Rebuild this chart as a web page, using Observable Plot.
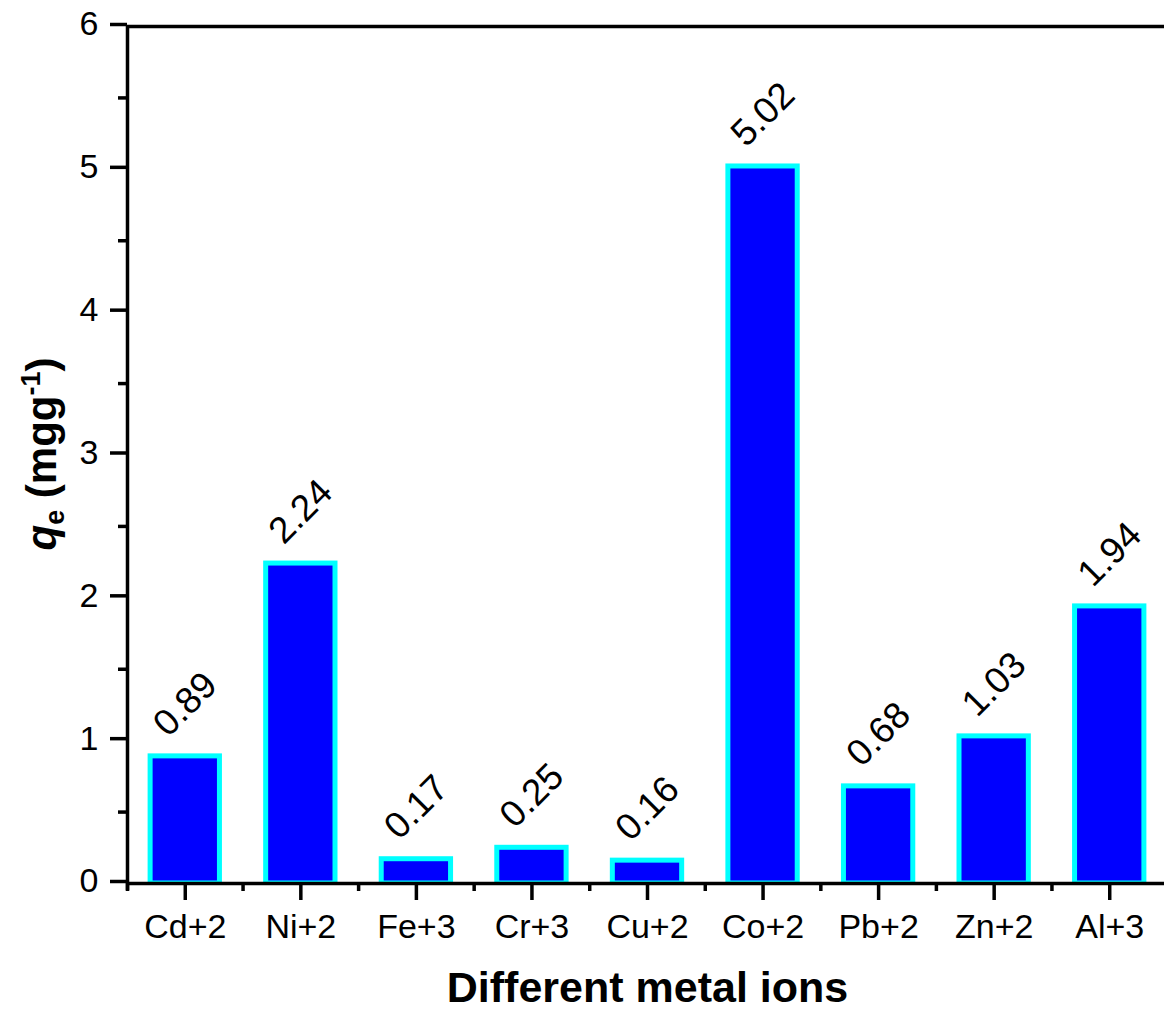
<!DOCTYPE html>
<html>
<head>
<meta charset="utf-8">
<script src="https://cdn.jsdelivr.net/npm/d3@7"></script>
<script src="https://cdn.jsdelivr.net/npm/@observablehq/plot@0.6"></script>
<style>
  html, body { margin: 0; padding: 0; background: white; overflow: hidden; }
  #chart svg { display: block; max-width: none !important; }
</style>
</head>
<body>
<div id="chart"></div>
<script>
const categories = ["Cd+2", "Ni+2", "Fe+3", "Cr+3", "Cu+2", "Co+2", "Pb+2", "Zn+2", "Al+3"];
const values = [0.89, 2.24, 0.17, 0.25, 0.16, 5.02, 0.68, 1.03, 1.94];
const yTicks = [0, 1, 2, 3, 4, 5, 6];
const yMinorTicks = [0.5, 1.5, 2.5, 3.5, 4.5, 5.5];
const xTitle = "Different metal ions";

const data = categories.map((c, i) => ({i, c, v: values[i]}));
const xMajor = categories.map((c, i) => i);
const xMinor = [...categories.map((c, i) => i - 0.5), categories.length - 0.5];

const font = "'Liberation Sans', Arial, sans-serif";

const chart = Plot.plot({
  width: 1190,
  height: 1014,
  marginLeft: 127,
  marginRight: 23,
  marginTop: 26,
  marginBottom: 131,
  style: {fontFamily: font, background: "white", color: "black", maxWidth: "none"},
  x: {type: "linear", domain: [-0.5, categories.length - 0.5]},
  y: {domain: [0, 6]},
  marks: [
    Plot.rectY(data, {
      x1: d => d.i - 0.3, x2: d => d.i + 0.3, y1: 0, y2: "v",
      fill: "#0000ff", stroke: "#00ffff", strokeWidth: 5, clip: true
    }),
    Plot.text(data, {
      x: "i", y: "v", text: d => d.v.toFixed(2),
      rotate: -45, dy: -52, fontSize: 37, fill: "black", textAnchor: "middle", lineAnchor: "middle"
    }),
    Plot.ruleY([0, 6], {stroke: "black", strokeWidth: 3.5}),
    Plot.ruleX([-0.5], {y1: -0.05, y2: 6, stroke: "black", strokeWidth: 3.5}),
    Plot.axisY({ticks: yTicks, tickFormat: d => String(d), tickSize: 17, tickPadding: 12, fontSize: 34, strokeWidth: 3.5, label: null, dy: -2}),
    Plot.axisY({ticks: yMinorTicks, tickSize: 9, text: null, strokeWidth: 3.5, label: null}),
    Plot.axisX({ticks: xMajor, tickFormat: i => categories[i], tickSize: 17, tickPadding: 13, fontSize: 34, strokeWidth: 3.5, label: null}),
    Plot.axisX({ticks: xMinor, tickSize: 8, text: null, strokeWidth: 3.5, label: null}),
    Plot.text([xTitle], {
      frameAnchor: "bottom", dy: 105, lineAnchor: "middle", text: d => d,
      fontSize: 43, fontWeight: "bold", fill: "black"
    })
  ]
});

document.getElementById("chart").appendChild(chart);

// Y-axis title with subscript and superscript
const svg = d3.select(chart);
const yTitle = svg.append("text")
  .attr("transform", "translate(56,454) rotate(-90)")
  .attr("text-anchor", "middle")
  .attr("font-family", font)
  .attr("font-weight", "bold")
  .attr("font-size", 42)
  .attr("fill", "black");
yTitle.append("tspan").attr("font-style", "italic").text("q");
yTitle.append("tspan").attr("font-size", 27).attr("dy", 8).text("e");
yTitle.append("tspan").attr("dy", -8).text(" (mgg");
yTitle.append("tspan").attr("font-size", 27).attr("dy", -16).text("-1");
yTitle.append("tspan").attr("dy", 16).text(")");
</script>
</body>
</html>
